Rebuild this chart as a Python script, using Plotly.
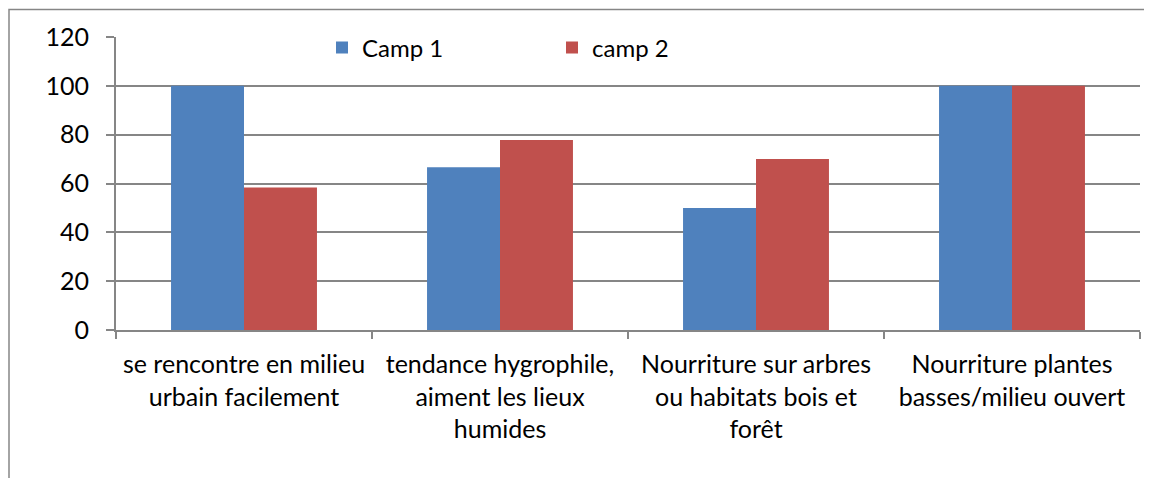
import plotly.graph_objects as go

categories = [
    "se rencontre en milieu<br>urbain facilement",
    "tendance hygrophile,<br>aiment les lieux<br>humides",
    "Nourriture sur arbres<br>ou habitats bois et<br>forêt",
    "Nourriture plantes<br>basses/milieu ouvert",
]
camp1 = [100, 66.67, 50, 100]
camp2 = [58.33, 77.78, 70, 100]
y_ticks = [0, 20, 40, 60, 80, 100, 120]

FONT = "Lato"
GRID = "#868686"

fig = go.Figure()
fig.add_trace(go.Bar(name="Camp 1", x=categories, y=camp1, marker=dict(color="#4F81BD", line=dict(width=0))))
fig.add_trace(go.Bar(name="camp 2", x=categories, y=camp2, marker=dict(color="#C0504D", line=dict(width=0))))

# page body has an 8px margin, so the figure starts at (8, 8) on the page
W, H = 1144, 470
L, R, T, B = 108, 12, 29, 148
pw, ph = W - L - R, H - T - B

fig.update_layout(
    width=W, height=H,
    margin=dict(l=L, r=R, t=T, b=B, pad=0, autoexpand=False),
    paper_bgcolor="white", plot_bgcolor="white",
    barmode="group", bargap=0.43, bargroupgap=0,
    font=dict(family=FONT, size=24, color="#000000"),
    legend=dict(orientation="h", x=(322 - 116) / pw, y=1 - (48 - 37) / ph, xanchor="left", yanchor="middle",
                entrywidth=185, entrywidthmode="pixels", font=dict(size=24), bgcolor="rgba(0,0,0,0)",
                itemwidth=30, traceorder="normal"),
    xaxis=dict(showline=True, linecolor=GRID, linewidth=2, ticks="outside", tickcolor=GRID, ticklen=7,
               tickwidth=2, tickson="boundaries", showgrid=False, ticklabelstandoff=11, automargin=False,
               tickfont=dict(size=25)),
    yaxis=dict(range=[0, 120], tickvals=y_ticks, showline=True, linecolor=GRID, linewidth=2, ticks="outside",
               tickcolor=GRID, ticklen=8, tickwidth=2, showgrid=True, gridcolor=GRID, gridwidth=2,
               zeroline=False, ticklabelstandoff=12, automargin=False, tickfont=dict(size=25)),
    shapes=[dict(type="rect", xref="paper", yref="paper",
                 x0=(1 - L) / pw, x1=(W + 20 - L) / pw,
                 y0=1 - (H + 20 - T) / ph, y1=1 + (T - 1.5) / ph,
                 line=dict(color=GRID, width=1.5), fillcolor="rgba(0,0,0,0)", layer="below")],
)

fig.write_html("out.html")
